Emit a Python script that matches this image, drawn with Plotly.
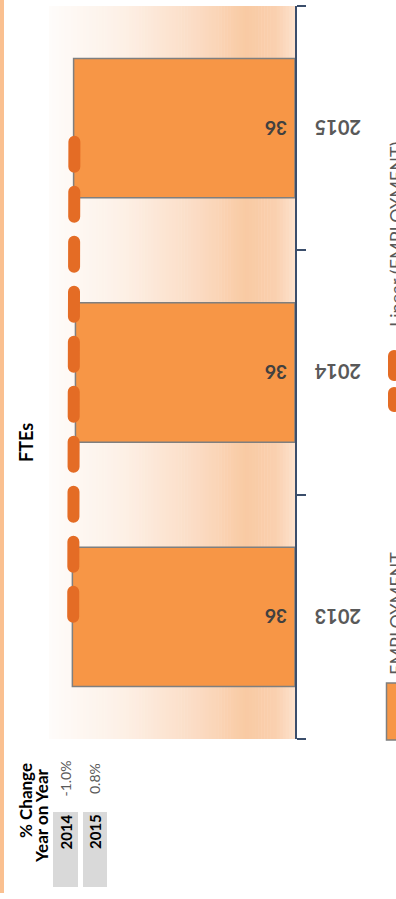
import numpy as np
import plotly.graph_objects as go

# ---------------- data ----------------
categories = ["2013", "2014", "2015"]
fte_values = [36.2, 35.7, 36.0]
bar_labels = ["36", "36", "36"]
pct_years = ["2014", "2015"]
pct_change = ["-1.0%", "0.8%"]
value_range = [0, 40]

# linear trendline (as Excel "Linear (EMPLOYMENT)")
idx = np.arange(len(categories))
slope, icpt = np.polyfit(idx, fte_values, 1)
trend_values = list(slope * idx + icpt)

# ---------------- layout geometry ----------------
W, H = 396, 899
L, R, T, B = 49, 295, 6, 739          # plot area in pixels


def px(x):
    return (x - L) / (R - L)


def py(y):
    return (B - y) / (B - T)


ORANGE = "#f79646"
TREND = "#e46c25"
GRAY_TXT = "#595959"
AXIS = "#3b4e6b"
FONT = "Lato"
NBSP = "\u00a0"

fig = go.Figure()

fig.add_trace(go.Bar(
    y=categories, x=fte_values, orientation="h",
    width=0.57,
    marker=dict(color=ORANGE, line=dict(color="#7f7f7f", width=1.5)),
    text=[NBSP + "<b>%s</b>" % t for t in bar_labels], textposition="inside",
    insidetextanchor="start", textangle=180,
    textfont=dict(family=FONT, size=19, color="#404040"),
    showlegend=False, hoverinfo="skip",
))

fig.add_trace(go.Scatter(
    y=categories, x=trend_values, mode="lines",
    line=dict(color=TREND, width=12, dash="25px,25px"),
    showlegend=False, hoverinfo="skip",
))

# ---------------- gradient background of the plot area ----------------
stops = [(0.0, (254, 252, 250)), (0.3, (253, 240, 230)), (0.6, (251, 220, 196)),
         (0.8, (249, 202, 163)), (0.92, (250, 208, 175)), (1.0, (253, 226, 205))]


def grad(t):
    for (t0, c0), (t1, c1) in zip(stops[:-1], stops[1:]):
        if t0 <= t <= t1:
            f = (t - t0) / (t1 - t0)
            return "rgb(%d,%d,%d)" % tuple(round(a + (b - a) * f) for a, b in zip(c0, c1))
    return "rgb(%d,%d,%d)" % stops[-1][1]


shapes = []
N = 80
for i in range(N):
    shapes.append(dict(type="rect", xref="paper", yref="paper", layer="below",
                       x0=i / N, x1=(i + 1) / N + 0.002, y0=0, y1=1,
                       fillcolor=grad((i + 0.5) / N), line=dict(width=0)))

# left orange stripe
shapes.append(dict(type="rect", xref="paper", yref="paper",
                   x0=px(0), x1=px(4), y0=py(893), y1=py(0),
                   fillcolor="#fac090", line=dict(width=0)))

# table boxes
for x0, x1 in [(53, 78), (83, 107)]:
    shapes.append(dict(type="rect", xref="paper", yref="paper",
                       x0=px(x0), x1=px(x1), y0=py(887), y1=py(812),
                       fillcolor="#d9d9d9", line=dict(width=0)))

# legend symbols
shapes.append(dict(type="rect", xref="paper", yref="paper",
                   x0=px(386.5), x1=px(402), y0=py(740), y1=py(683),
                   fillcolor=ORANGE, line=dict(color="#7f7f7f", width=1.5)))
shapes.append(dict(type="line", xref="paper", yref="paper",
                   x0=px(394), x1=px(394), y0=py(356), y1=py(406),
                   line=dict(color=TREND, width=12, dash="19px,18px")))

annotations = []


def txt(text, x, y, size, color="#000000", bold=False, angle=-90, xanchor="center",
        ypaper=None):
    annotations.append(dict(
        text=("<b>%s</b>" % text) if bold else text,
        x=px(x), y=py(y) if ypaper is None else ypaper, xref="paper", yref="paper",
        showarrow=False, textangle=angle, xanchor=xanchor, yanchor="middle",
        font=dict(family=FONT, size=size, color=color)))


# category labels (upside down, right of the axis), centred on each category band
for i, c in enumerate(categories):
    txt(c, 338, None, 20, color=GRAY_TXT, bold=True, angle=180,
        ypaper=(i + 0.5) / len(categories))

txt("FTEs", 26, 443, 18, bold=True)
txt("% Change", 25, 801, 17, bold=True)
txt("Year on Year", 41, 816, 17, bold=True)
for yr, pc, xc in zip(pct_years, pct_change, [65.5, 95]):
    txt(yr, xc, 832, 15, bold=True)
    txt(pc, xc, 779, 14, color=GRAY_TXT)
txt("EMPLOYMENT", 396, 614, 18, color=GRAY_TXT)
txt("Linear (EMPLOYMENT)", 396, 235, 18, color=GRAY_TXT)

fig.update_layout(
    width=W, height=H,
    margin=dict(l=L, r=W - R, t=T, b=H - B, pad=0),
    paper_bgcolor="white", plot_bgcolor="rgba(0,0,0,0)",
    bargap=0.43,
    shapes=shapes, annotations=annotations,
    font=dict(family=FONT),
    xaxis=dict(range=value_range[::-1], visible=False, showgrid=False, zeroline=False,
               fixedrange=True),
    yaxis=dict(type="category", categoryorder="array", categoryarray=categories,
               range=[-0.5, 2.5], side="right", showline=True, linecolor=AXIS,
               linewidth=2, ticks="outside", tickson="boundaries", ticklen=9,
               tickwidth=2, tickcolor=AXIS, showticklabels=False,
               showgrid=False, zeroline=False, fixedrange=True),
)

post = """
document.body.style.margin = '0';
document.querySelectorAll('.scatterlayer .js-line').forEach(function(p){p.style.strokeLinecap='round';});
document.querySelectorAll('.shapelayer path').forEach(function(p){p.style.strokeLinecap='round';});
"""

fig.write_html("out.html", post_script=post, config={"displayModeBar": False})
